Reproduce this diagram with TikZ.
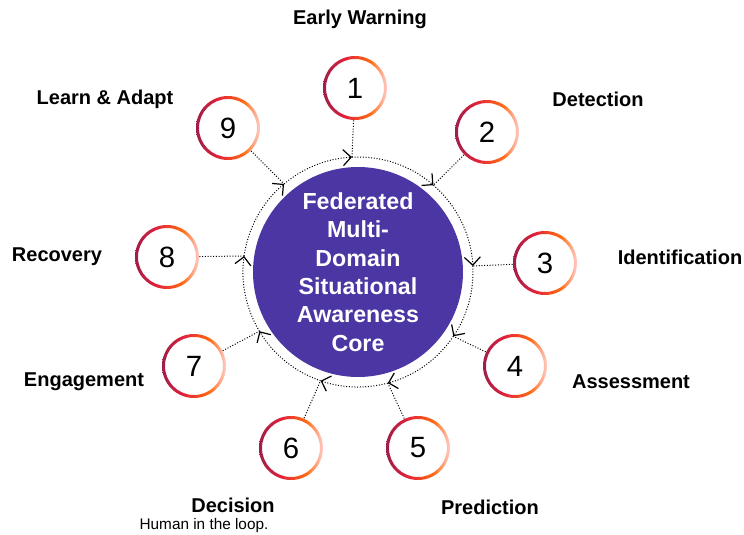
\documentclass[tikz,border=0pt]{standalone}
\usepackage{fontspec}
\setmainfont{Liberation Sans}
\usetikzlibrary{arrows.meta}

\definecolor{corepurple}{RGB}{76,54,163}
\definecolor{ringcrimson}{RGB}{160,30,72}
\definecolor{ringred}{RGB}{227,33,58}
\definecolor{ringorange}{RGB}{255,106,18}
\definecolor{ringpink}{RGB}{255,205,203}
\pgfdeclarehorizontalshading{ringgrad}{100bp}{color(0bp)=(ringcrimson); color(25bp)=(ringcrimson); color(42bp)=(ringred); color(62bp)=(ringorange); color(75bp)=(ringpink); color(100bp)=(ringpink)}

\tikzset{every picture/.style={line width=0.75pt}}

\begin{document}
\begin{tikzpicture}[x=0.75pt,y=0.75pt,yscale=-1,xscale=1,
  core/.style={circle, fill=corepurple, minimum size=157.5pt, inner sep=0pt},
  coretext/.style={align=center, text=white, inner sep=0pt, font=\fontsize{17.4}{21.3}\selectfont\bfseries},
  stage/.style={circle, minimum size=48pt, inner sep=0pt, font=\fontsize{22}{26}\selectfont},
  tag/.style={inner sep=0.75pt, font=\fontsize{15}{18}\selectfont\bfseries},
  note/.style={inner sep=0.75pt, font=\fontsize{11.5}{14}\selectfont},
  ring/.style={dash pattern={on 0.75pt off 1.3pt}, -{Straight Barb[length=6pt,width=12pt,line width=0.9pt]}},
  link/.style={dash pattern={on 0.75pt off 1.3pt}}]
\useasboundingbox (0,0) rectangle (744,535);

%Core
\node [core] (core) at (358,272) {};
\node [coretext] (coretitle) at (core) {Federated\\Multi-\\Domain\\Situational\\Awareness\\Core};

%Stages
\node [stage] (n1) at (355,88) {1};
\node [stage] (n2) at (487,132) {2};
\node [stage] (n3) at (545,263) {3};
\node [stage] (n4) at (515,366) {4};
\node [stage] (n5) at (418,448) {5};
\node [stage] (n6) at (291,448) {6};
\node [stage] (n7) at (194,366) {7};
\node [stage] (n8) at (167,257) {8};
\node [stage] (n9) at (228,128) {9};
\foreach \n in {1,...,9}
  \shade [shading=ringgrad, even odd rule] (n\n) circle [radius=32] circle [radius=29];

%Ring junctions
\foreach \n/\a in {1/-93, 2/-49, 3/-3, 4/34, 5/75, 6/109, 7/149, 8/-172, 9/-130}
  \path (core) ++(\a:115) coordinate (j\n);

%Ring arcs
\foreach \n/\a/\b in {8/-172/-130, 9/-130/-93, 1/-93/-49, 2/-49/-3, 3/-3/34, 4/34/75, 5/75/109, 6/109/149, 7/149/188}
  \draw [ring] (j\n) arc [start angle=\a, end angle=\b, radius=115];

%Straight Lines
\foreach \n in {1,...,9}
  \draw [link] (n\n) -- (j\n);

% Text Node
\node [tag] (t1) at (360,19) {Early Warning};
% Text Node
\node [tag] (t2) at (598,99) {Detection};
% Text Node
\node [tag] (t3) at (680,257) {Identification};
% Text Node
\node [tag] (t4) at (631,382) {Assessment};
% Text Node
\node [tag] (t5) at (490,507) {Prediction};
% Text Node
\node [tag] (t6) at (233,505) {Decision};
% Text Node
\node [note] (t6b) at (204,526) {Human in the loop.};
% Text Node
\node [tag] (t7) at (84,382) {Engagement};
% Text Node
\node [tag] (t8) at (57,257) {Recovery};
% Text Node
\node [tag] (t9) at (105,99) {Learn \& Adapt};
\end{tikzpicture}
\end{document}
